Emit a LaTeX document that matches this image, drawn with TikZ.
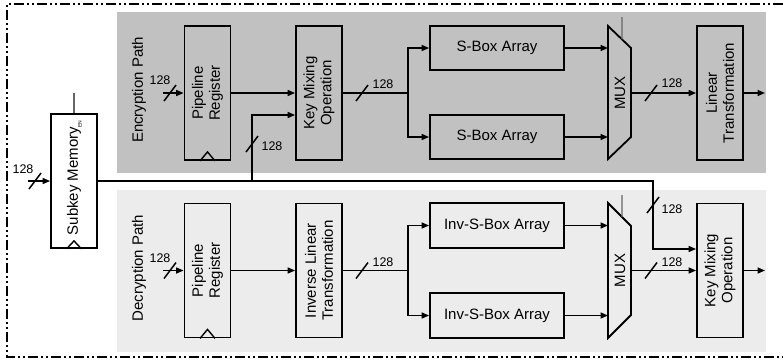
\documentclass[tikz,border=0pt]{standalone}
\usepackage{fontspec}
\setmainfont{Liberation Sans}
\usetikzlibrary{positioning, calc, arrows.meta}
\definecolor{encgray}{HTML}{C1C1C1}
\definecolor{decgray}{HTML}{ECECEC}
\tikzset{
  blk/.style={draw, line width=1.8pt, inner sep=0pt, minimum width=46pt, minimum height=134pt},
  wide/.style={blk, minimum width=134pt, minimum height=44pt, font=\fontsize{15}{16}\selectfont},
  vlbl/.style={rotate=90, align=center, font=\fontsize{15}{17}\selectfont},
  wire/.style={line width=1.5pt},
  sig/.style={wire, -{Triangle[length=7.5pt,width=6pt]}},
  busw/.style={font=\fontsize{12.5}{12.5}\selectfont, inner sep=0pt},
  ctrl/.style={line width=1.1pt, gray!80!black},
  clk/.style={line width=1.4pt},
}
\newcommand{\busslash}[1]{\draw[wire] ($(#1)+(-6,8)$) -- ($(#1)+(6,-8)$);}

\begin{document}
\begin{tikzpicture}[x=1pt, y=-1pt]
    \useasboundingbox (0,0) rectangle (783,362);

    % outer frame
    \draw[line width=1.6pt, dash pattern=on 10pt off 3pt on 2pt off 3pt on 2pt off 3pt]
        (783,4) -- (7,4) -- (7,357) -- (783,357);

    % path backgrounds
    \fill[encgray] (117,12) rectangle (766,173);
    \fill[decgray] (117,190) rectangle (766,352);
    \node[vlbl] (encl) at (139,90) {Encryption Path};
    \node[vlbl] (decl) at (139,268) {Decryption Path};

    % ---------------------------------------------------
    % Subkey memory
    % ---------------------------------------------------
    \node[blk] (skm) at (74,181) {};
    \node[vlbl] (skmt) at (skm) {Subkey Memory};
    \draw[clk] ($(skm.south)+(-7.5,0)$) -- ($(skm.south)+(0,-8)$) -- ($(skm.south)+(7.5,0)$);
    \node[rotate=90, inner sep=0pt, font=\fontsize{5}{5}\selectfont] (en) at (80,124) {EN};
    \coordinate (ensrc) at (74,93);
    \draw[ctrl] (ensrc) -- (skm.north);

    \coordinate (kin) at (28,181);
    \draw[sig] (kin) -- (skm.west);
    \coordinate (kbus) at (35,181);
    \busslash{kbus}
    \node[busw] (kbl) at (23,169) {128};

    % ---------------------------------------------------
    % Encryption path
    % ---------------------------------------------------
    \node[blk] (preg1) at (207.5,93) {};
    \node[vlbl] (preg1t) at (preg1) {Pipeline\\Register};
    \draw[clk] ($(preg1.south)+(-7.5,0)$) -- ($(preg1.south)+(0,-9)$) -- ($(preg1.south)+(7.5,0)$);

    \node[blk] (kmx1) at (319,93) {};
    \node[vlbl] (kmx1t) at (kmx1) {Key Mixing\\Operation};

    \node[wide] (sbox1) at (497,48) {S-Box Array};
    \node[wide] (sbox2) at (497,137) {S-Box Array};

    % MUX
    \coordinate (m1tl) at (608,26);
    \coordinate (m1tr) at (631,48);
    \coordinate (m1br) at (631,137);
    \coordinate (m1bl) at (608,159);
    \draw[line width=1.8pt, line join=miter] (m1tl) -- (m1tr) -- (m1br) -- (m1bl) -- cycle;
    \node[vlbl] (mux1) at (620,93) {MUX};
    \coordinate (sel1) at (622,17);
    \draw[ctrl] (sel1) -- ($(m1tl)!14/23!(m1tr)$);

    \node[blk] (lin1) at (720,93) {};
    \node[vlbl] (lin1t) at (lin1) {Linear\\Transformation};

    % wires
    \coordinate (in1) at (163,93);
    \draw[sig] (in1) -- (preg1.west);
    \coordinate (b1) at (170,93);
    \busslash{b1}
    \node[busw] (b1l) at (160,80) {128};

    \draw[sig] (preg1.east) -- (kmx1.west);
    \coordinate (fork1) at (408,93);
    \draw[wire] (kmx1.east) -- (fork1);
    \draw[sig] (fork1) |- (sbox1.west);
    \draw[sig] (fork1) |- (sbox2.west);
    \coordinate (b2) at (362,93);
    \busslash{b2}
    \node[busw] (b2l) at (383,84) {128};

    \draw[sig] (sbox1.east) -- (m1tl |- sbox1.east);
    \draw[sig] (sbox2.east) -- (m1bl |- sbox2.east);
    \coordinate (m1out) at (631,93);
    \draw[sig] (m1out) -- (lin1.west);
    \coordinate (b3) at (651,93);
    \busslash{b3}
    \node[busw] (b3l) at (672,83) {128};

    \coordinate (out1) at (765,93);
    \draw[sig] (lin1.east) -- (out1);

    % ---------------------------------------------------
    % Decryption path
    % ---------------------------------------------------
    \node[blk] (preg2) at (207.5,270.5) {};
    \node[vlbl] (preg2t) at (preg2) {Pipeline\\Register};
    \draw[clk] ($(preg2.south)+(-7.5,0)$) -- ($(preg2.south)+(0,-9)$) -- ($(preg2.south)+(7.5,0)$);

    \node[blk] (ilt) at (319,270.5) {};
    \node[vlbl] (iltt) at (ilt) {Inverse Linear\\Transformation};

    \node[wide, minimum height=45pt] (isbox1) at (497,225.5) {Inv-S-Box Array};
    \node[wide, minimum height=45pt] (isbox2) at (497,315.5) {Inv-S-Box Array};

    % MUX
    \coordinate (m2tl) at (608,203);
    \coordinate (m2tr) at (631,226);
    \coordinate (m2br) at (631,315);
    \coordinate (m2bl) at (608,338);
    \draw[line width=1.8pt, line join=miter] (m2tl) -- (m2tr) -- (m2br) -- (m2bl) -- cycle;
    \node[vlbl] (mux2) at (620,270.5) {MUX};
    \coordinate (sel2) at (622,195);
    \draw[ctrl] (sel2) -- ($(m2tl)!14/23!(m2tr)$);

    \node[blk] (kmx2) at (720,270.5) {};
    \node[vlbl] (kmx2t) at (kmx2) {Key Mixing\\Operation};

    % wires
    \coordinate (in2) at (163,270.5);
    \draw[sig] (in2) -- (preg2.west);
    \coordinate (b4) at (170,270.5);
    \busslash{b4}
    \node[busw] (b4l) at (160,258) {128};

    \draw[sig] (preg2.east) -- (ilt.west);
    \coordinate (fork2) at (408,270.5);
    \draw[wire] (ilt.east) -- (fork2);
    \draw[sig] (fork2) |- (isbox1.west);
    \draw[sig] (fork2) |- (isbox2.west);
    \coordinate (b5) at (362,270.5);
    \busslash{b5}
    \node[busw] (b5l) at (383,262) {128};

    \draw[sig] (isbox1.east) -- (m2tl |- isbox1.east);
    \draw[sig] (isbox2.east) -- (m2bl |- isbox2.east);
    \coordinate (m2out) at (631,270.5);
    \draw[sig] (m2out) -- (kmx2.west);
    \coordinate (b6) at (651,270.5);
    \busslash{b6}
    \node[busw] (b6l) at (672,262) {128};

    \coordinate (out2) at (765,270.5);
    \draw[sig] (kmx2.east) -- (out2);

    % ---------------------------------------------------
    % Subkey distribution
    % ---------------------------------------------------
    \coordinate (ktap) at (252,181);
    \coordinate (kturn) at (653,181);
    \coordinate (k1in) at ([yshift=-22pt]kmx1.west);
    \coordinate (k2in) at ([yshift=21.5pt]kmx2.west);
    \draw[sig] (skm.east) -- (kturn) |- (k2in);
    \draw[sig] (ktap) |- (k1in);
    \coordinate (b7) at (252,144);
    \busslash{b7}
    \node[busw] (b7l) at (272,146) {128};
    \coordinate (b8) at (653,205);
    \busslash{b8}
    \node[busw] (b8l) at (672,209) {128};

\end{tikzpicture}
\end{document}
